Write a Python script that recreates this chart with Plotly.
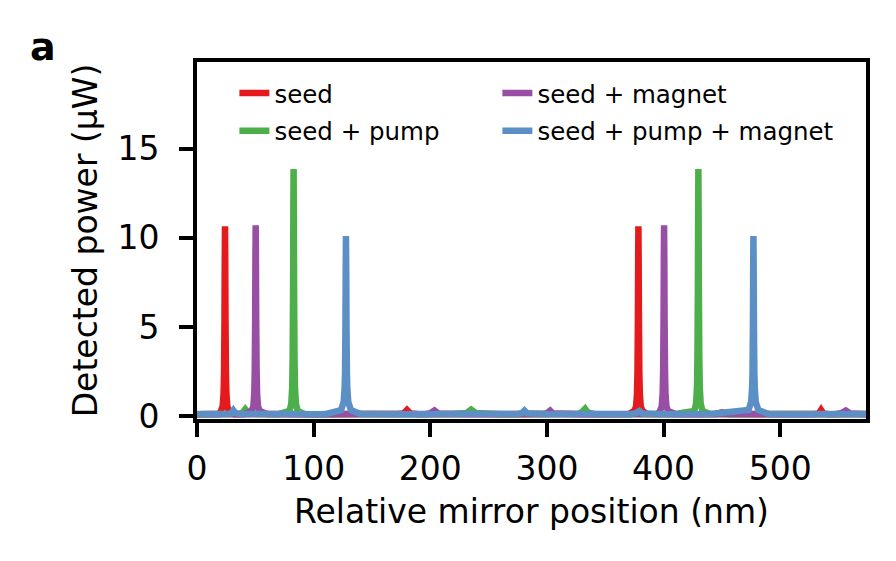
import plotly.graph_objects as go

# ---- data (nm, µW) ----
seed_x = [0, 12, 19, 20.5, 22.0, 22.8, 23.2, 23.55, 23.8, 24.0, 24.2, 24.45, 24.8, 25.2, 26.0, 27.5,
          32, 60, 100, 140, 172, 177, 180, 183, 190, 230, 270, 310, 350, 370, 374.9, 376.4, 377.2,
          377.6, 377.95, 378.2, 378.4, 378.6, 378.85, 379.2, 379.6, 380.4, 381.9, 386, 420, 445,
          450, 455, 480, 510, 530, 533, 535, 537, 542, 574]
seed_y = [0.12, 0.13, 0.12, 0.3, 0.55, 1.3, 2.5, 5.3, 8.8, 10.65, 8.8, 5.3, 2.5, 1.3, 0.55, 0.3,
          0.12, 0.13, 0.12, 0.13, 0.13, 0.16, 0.36, 0.16, 0.12, 0.13, 0.12, 0.13, 0.12, 0.13, 0.3, 0.55, 1.3,
          2.5, 5.3, 8.8, 10.65, 8.8, 5.3, 2.5, 1.3, 0.55, 0.3, 0.13, 0.12, 0.13,
          0.22, 0.13, 0.12, 0.13, 0.13, 0.16, 0.36, 0.16, 0.12, 0.13]

pump_x = [0, 20, 36, 39, 41.4, 44, 50, 70, 79.3, 80.8, 81.6, 82.0, 82.35, 82.6, 82.8, 83.0, 83.25,
          83.6, 84.0, 84.8, 86.3, 92, 100, 140, 180, 220, 231, 235, 239, 260, 300, 327, 330, 332.7,
          335, 340, 380, 410, 426.3, 427.8, 428.6, 429.0, 429.35, 429.6, 429.8, 430.0, 430.25, 430.6,
          431.0, 431.8, 433.3, 440, 460, 500, 540, 574]
pump_y = [0.12, 0.13, 0.13, 0.2, 0.4, 0.2, 0.13, 0.12, 0.3, 0.7, 1.6, 3.3, 6.9, 11.5, 13.85, 11.5, 6.9,
          3.3, 1.6, 0.7, 0.3, 0.13, 0.12, 0.13, 0.12, 0.13, 0.18, 0.38, 0.18, 0.12, 0.13, 0.15, 0.24, 0.42,
          0.22, 0.13, 0.12, 0.13, 0.3, 0.7, 1.6, 3.3, 6.9, 11.5, 13.85, 11.5, 6.9, 3.3,
          1.6, 0.7, 0.3, 0.13, 0.12, 0.13, 0.12, 0.13]

magnet_x = [0, 20, 40, 46.8, 48.3, 49.1, 49.5, 49.85, 50.1, 50.3, 50.5, 50.75, 51.1, 51.5, 52.3,
            53.8, 60, 110, 150, 196, 200, 203.6, 207, 230, 270, 297, 300, 302.7, 305, 330, 370, 395,
            396.9, 398.4, 399.2, 399.6, 399.95, 400.2, 400.4, 400.6, 400.85, 401.2, 401.6, 402.4,
            403.9, 410, 430, 470, 510, 548, 552, 556.2, 560, 574]
magnet_y = [0.12, 0.13, 0.12, 0.3, 0.55, 1.3, 2.55, 5.35, 8.9, 10.7, 8.9, 5.35, 2.55, 1.3, 0.55,
            0.3, 0.13, 0.12, 0.13, 0.13, 0.17, 0.33, 0.16, 0.12, 0.13, 0.13, 0.17, 0.32, 0.16, 0.12, 0.13, 0.13,
            0.3, 0.55, 1.3, 2.55, 5.35, 8.9, 10.7, 8.9, 5.35, 2.55, 1.3, 0.55,
            0.3, 0.13, 0.12, 0.13, 0.12, 0.13, 0.17, 0.32, 0.16, 0.12]

both_x = [0, 10, 27, 29.5, 31.2, 33, 38, 70, 110, 123.5, 125.7, 126.5, 126.9, 127.25, 127.5, 127.7,
          127.9, 128.15, 128.5, 128.9, 129.7, 131.9, 140, 190, 230, 275, 278.5, 280.7, 283, 300,
          340, 372, 376, 379.3, 382, 400, 440, 472.8, 475.0, 475.8, 476.2, 476.55, 476.8, 477.0,
          477.2, 477.45, 477.8, 478.2, 479.0, 481.2, 490, 500, 540, 574]
both_y = [0.13, 0.12, 0.13, 0.18, 0.34, 0.18, 0.12, 0.13, 0.12, 0.35, 0.8, 1.5, 2.4, 5.05, 8.4, 10.1,
          8.4, 5.05, 2.4, 1.5, 0.8, 0.35, 0.13, 0.12, 0.13, 0.13, 0.18, 0.32, 0.17, 0.12,
          0.13, 0.12, 0.17, 0.3, 0.16, 0.12, 0.13, 0.35, 0.8, 1.5, 2.4, 5.05, 8.4, 10.1,
          8.4, 5.05, 2.4, 1.5, 0.8, 0.35, 0.13, 0.12, 0.13, 0.12]

series = [
    ("seed", seed_x, seed_y, "#e41a1c", "legend"),
    ("seed + pump", pump_x, pump_y, "#4daf4a", "legend"),
    ("seed + magnet", magnet_x, magnet_y, "#984ea3", "legend2"),
    ("seed + pump + magnet", both_x, both_y, "#5b8fc6", "legend2"),
]

x_ticks = [0, 100, 200, 300, 400, 500]
y_ticks = [0, 5, 10, 15]

FONT = "DejaVu Sans"

fig = go.Figure()
for name, xs, ys, color, leg in series:
    fig.add_trace(go.Scatter(
        x=xs, y=ys, mode="lines", name=name, legend=leg, legendgroup=name,
        line=dict(color=color, width=6.5, shape="linear", simplify=False),
    ))

axis_common = dict(
    showline=True, linewidth=4, linecolor="black", mirror=True,
    ticks="outside", ticklen=14, tickwidth=4, tickcolor="black",
    showgrid=False, zeroline=False, automargin=False,
    tickfont=dict(family=FONT, size=33, color="black"),
)

legend_common = dict(
    orientation="v", y=0.976, xanchor="left", yanchor="top",
    font=dict(family=FONT, size=24.5, color="black"),
    bgcolor="rgba(0,0,0,0)", itemwidth=30, tracegroupgap=3, traceorder="grouped",
)

fig.update_layout(
    width=896, height=561,
    margin=dict(l=189, r=38, t=54, b=150),
    paper_bgcolor="white", plot_bgcolor="white",
    font=dict(family=FONT, color="black"),
    xaxis=dict(
        range=[0, 573.5], tickvals=x_ticks, ticktext=[str(v) for v in x_ticks],
        title=dict(text="Relative mirror position (nm)", font=dict(family=FONT, size=33), standoff=14),
        ticklabelstandoff=3,
        **axis_common,
    ),
    yaxis=dict(
        range=[-0.15, 19.85], tickvals=y_ticks, ticktext=[str(v) for v in y_ticks],
        title=dict(text="Detected power (µW)", font=dict(family=FONT, size=33), standoff=11),
        ticklabelstandoff=13,
        **axis_common,
    ),
    legend=dict(x=0.0559, **legend_common),
    legend2=dict(x=0.449, **legend_common),
    showlegend=True,
)

fig.add_annotation(
    text="<b>a</b>", xref="paper", yref="paper", x=-0.253, y=1.042,
    xanchor="left", yanchor="middle", showarrow=False,
    font=dict(family=FONT, size=38, color="black"),
)

fig.write_html("out.html")
